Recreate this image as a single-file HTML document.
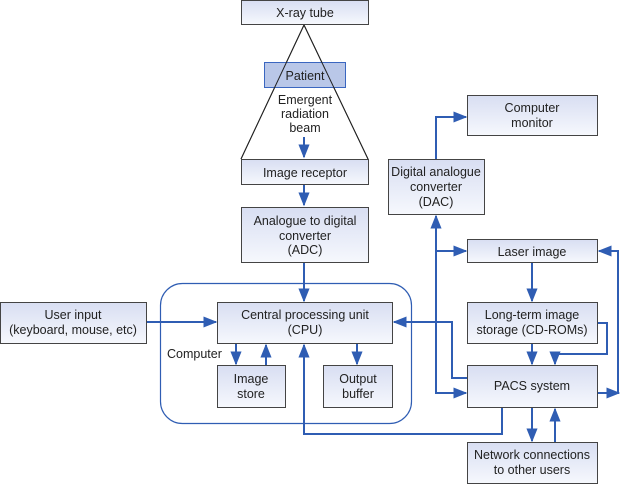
<!DOCTYPE html>
<html><head><style>
body{margin:0;background:#fff}
</style></head><body>
<svg width="620" height="484" viewBox="0 0 620 484" xmlns="http://www.w3.org/2000/svg" font-family="Liberation Sans, sans-serif" font-size="12.5" fill="#222">
<defs>
<linearGradient id="g" x1="0" y1="0" x2="0" y2="1"><stop offset="0" stop-color="#d8def2"/><stop offset="1" stop-color="#f6f8fd"/></linearGradient>
<marker id="a" viewBox="0 0 10 10" refX="9" refY="5" markerWidth="7" markerHeight="7" orient="auto"><path d="M0,1 L10,5 L0,9 Z" fill="#2f5db3"/></marker>
</defs>
<path d="M304,25 L241,159 M304,25 L368,159" stroke="#222" fill="none"/>
<rect x="160.5" y="283.5" width="251" height="140" rx="22" fill="none" stroke="#2f5db3" stroke-width="1.2"/>
<g stroke="#2f5db3" stroke-width="2" fill="none" marker-end="url(#a)">
<path d="M304,137 V157"/>
<path d="M304,185 V205"/>
<path d="M304,263 V301"/>
<path d="M146,322 H216"/>
<path d="M236,344 V364"/>
<path d="M266,365 V345"/>
<path d="M357,344 V364"/>
<path d="M502,408 V434 H304 V345"/>
<path d="M467,378 H452 V322 H394"/>
<path d="M436,251 V216"/>
<path d="M436,159 V117 H466"/>
<path d="M436,251 H466"/>
<path d="M436,251 V393 H466"/>
<path d="M532,263 V301"/>
<path d="M532,344 V364"/>
<path d="M597,323 H607 V354 H555 V364"/>
<path d="M597,393 H619"/>
<path d="M618,393 V251 H599"/>
<path d="M532,408 V441"/>
<path d="M555,442 V409"/>
</g>
<g fill="url(#g)" stroke="#444" stroke-width="1">
<rect x="241.5" y="0.5" width="127" height="24"/>
<rect x="241.5" y="159.5" width="127" height="25"/>
<rect x="241.5" y="207.5" width="127" height="55"/>
<rect x="0.5" y="302.5" width="146" height="41"/>
<rect x="217.5" y="302.5" width="175" height="41"/>
<rect x="217.5" y="365.5" width="68" height="42"/>
<rect x="323.5" y="365.5" width="69" height="42"/>
<rect x="467.5" y="95.5" width="130" height="40"/>
<rect x="388.5" y="159.5" width="96" height="55"/>
<rect x="467.5" y="239.5" width="130" height="23"/>
<rect x="467.5" y="302.5" width="130" height="41"/>
<rect x="467.5" y="365.5" width="130" height="42"/>
<rect x="467.5" y="442.5" width="130" height="41"/>
</g>
<rect x="264.5" y="62.5" width="81" height="25" fill="#b9c7e8" stroke="#3a66c0"/>
<path d="M304,25 L241,159 M304,25 L368,159" stroke="#222" fill="none"/>
<g text-anchor="middle">
<text x="305" y="17">X-ray tube</text>
<text x="305" y="80">Patient</text>
<text x="305" y="104">Emergent</text>
<text x="305" y="118">radiation</text>
<text x="305" y="132">beam</text>
<text x="305" y="177">Image receptor</text>
<text x="305" y="225">Analogue to digital</text>
<text x="305" y="240">converter</text>
<text x="305" y="254">(ADC)</text>
<text x="73" y="319">User input</text>
<text x="73" y="334">(keyboard, mouse, etc)</text>
<text x="305" y="319">Central processing unit</text>
<text x="305" y="334">(CPU)</text>
<text x="251" y="383">Image</text>
<text x="251" y="398">store</text>
<text x="358" y="383">Output</text>
<text x="358" y="398">buffer</text>
<text x="532" y="112">Computer</text>
<text x="532" y="127">monitor</text>
<text x="436" y="176">Digital analogue</text>
<text x="436" y="191">converter</text>
<text x="436" y="206">(DAC)</text>
<text x="532" y="256">Laser image</text>
<text x="532" y="319">Long-term image</text>
<text x="532" y="334">storage (CD-ROMs)</text>
<text x="532" y="390">PACS system</text>
<text x="532" y="459">Network connections</text>
<text x="532" y="474">to other users</text>
</g>
<text x="167" y="358">Computer</text>
</svg>
</body></html>
